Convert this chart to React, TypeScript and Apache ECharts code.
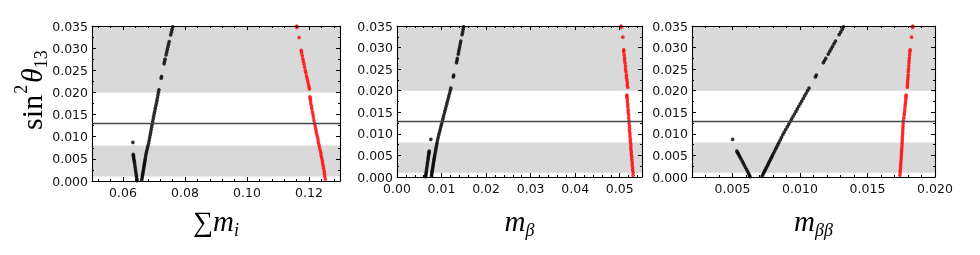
import React, { useEffect, useRef } from "react";
import * as echarts from "echarts";

// ---- data (sin^2 theta13 shared across panels) ----
const blackRightS13 = [0.0002,0.0006,0.0010,0.0014,0.0018,0.0022,0.0026,0.0030,0.0034,0.0038,0.0042,0.0046,0.0050,0.0055,0.0060,0.0065,0.0070,0.0075,0.0080,0.0086,0.0092,0.0098,0.0104,0.0110,0.0116,0.0122,0.0128,0.0134,0.0140,0.0146,0.0152,0.0158,0.0164,0.0170,0.0176,0.0182,0.0188,0.0194,0.0200,0.0206,0.0232,0.0236,0.0265,0.0270,0.0275,0.0285,0.0291,0.0297,0.0303,0.0309,0.0315,0.0330,0.0336,0.0342,0.0348];
const blackRightSum = [0.06605,0.06614,0.06623,0.06633,0.06642,0.06651,0.06661,0.06670,0.06679,0.06689,0.06698,0.06707,0.06717,0.06728,0.06740,0.06757,0.06773,0.06790,0.06807,0.06827,0.06845,0.06861,0.06877,0.06893,0.06909,0.06925,0.06941,0.06957,0.06973,0.06989,0.07006,0.07024,0.07042,0.07060,0.07078,0.07095,0.07111,0.07127,0.07143,0.07159,0.07232,0.07243,0.07326,0.07340,0.07357,0.07390,0.07410,0.07430,0.07450,0.07470,0.07490,0.07540,0.07561,0.07582,0.07603];
const blackRightMb = [0.00773,0.00779,0.00785,0.00791,0.00797,0.00803,0.00809,0.00815,0.00821,0.00827,0.00833,0.00840,0.00847,0.00856,0.00865,0.00873,0.00882,0.00891,0.00900,0.00910,0.00925,0.00939,0.00954,0.00969,0.00983,0.00998,0.01013,0.01028,0.01043,0.01058,0.01073,0.01088,0.01104,0.01119,0.01134,0.01149,0.01164,0.01180,0.01195,0.01209,0.01265,0.01273,0.01336,0.01346,0.01355,0.01375,0.01386,0.01398,0.01409,0.01421,0.01432,0.01461,0.01473,0.01484,0.01496];
const blackRightMbb = [0.00719,0.00726,0.00732,0.00738,0.00745,0.00751,0.00758,0.00764,0.00770,0.00777,0.00783,0.00790,0.00796,0.00804,0.00812,0.00820,0.00828,0.00836,0.00844,0.00854,0.00863,0.00873,0.00883,0.00894,0.00905,0.00916,0.00926,0.00937,0.00948,0.00959,0.00970,0.00980,0.00991,0.01002,0.01013,0.01024,0.01034,0.01045,0.01056,0.01067,0.01114,0.01121,0.01173,0.01182,0.01191,0.01209,0.01220,0.01231,0.01241,0.01252,0.01263,0.01290,0.01301,0.01312,0.01322];

const blackLeftS13 = [0.0087,0.0060,0.0057,0.0054,0.0050,0.0046,0.0042,0.0037,0.0032,0.0027,0.0022,0.0017,0.0012,0.0008,0.0004,0.0001];
const blackLeftSum = [0.0632,0.0633,0.0634,0.0634,0.0635,0.0636,0.0637,0.0638,0.0639,0.0640,0.0641,0.0642,0.0643,0.0644,0.0645,0.0645];
const blackLeftMb = [0.00760,0.00723,0.00719,0.00715,0.00709,0.00703,0.00698,0.00691,0.00684,0.00677,0.00670,0.00663,0.00657,0.00651,0.00646,0.00641];
const blackLeftMbb = [0.00501,0.00532,0.00537,0.00542,0.00549,0.00556,0.00563,0.00572,0.00580,0.00588,0.00596,0.00605,0.00613,0.00620,0.00625,0.00630];

const redS13 = [0.0350,0.0347,0.0324,0.0295,0.0290,0.0283,0.0276,0.0270,0.0264,0.0257,0.0250,0.0244,0.0237,0.0231,0.0225,0.0219,0.0213,0.0208,0.0190,0.0186,0.0181,0.0175,0.0169,0.0163,0.0156,0.0150,0.0144,0.0137,0.0130,0.0124,0.0118,0.0112,0.0106,0.0100,0.0094,0.0088,0.0082,0.0076,0.0070,0.0064,0.0058,0.0052,0.0046,0.0040,0.0034,0.0028,0.0022,0.0016,0.0010,0.0004];
const redSum = [0.1160,0.1161,0.1168,0.1175,0.1176,0.1178,0.1180,0.1182,0.1184,0.1186,0.1188,0.1190,0.1192,0.1194,0.1196,0.1198,0.1200,0.1201,0.1203,0.1204,0.1205,0.1206,0.1208,0.1209,0.1211,0.1213,0.1214,0.1216,0.1218,0.1220,0.1222,0.1223,0.1225,0.1227,0.1229,0.1230,0.1232,0.1234,0.1236,0.1238,0.1239,0.1241,0.1243,0.1244,0.1246,0.1247,0.1249,0.1250,0.1251,0.1253];
const redMb = [0.0503,0.0504,0.0507,0.0509,0.0509,0.0510,0.0511,0.0511,0.0512,0.0513,0.0513,0.0514,0.0515,0.0515,0.0516,0.0517,0.0517,0.0518,0.0516,0.0516,0.0517,0.0517,0.0518,0.0518,0.0519,0.0519,0.0520,0.0520,0.0521,0.0521,0.0522,0.0522,0.0522,0.0523,0.0523,0.0524,0.0524,0.0525,0.0525,0.0525,0.0526,0.0526,0.0527,0.0527,0.0528,0.0528,0.0529,0.0529,0.0530,0.0530];
const redMbb = [0.01836,0.01834,0.01827,0.01816,0.01814,0.01812,0.01810,0.01808,0.01807,0.01805,0.01804,0.01802,0.01801,0.01800,0.01798,0.01797,0.01796,0.01795,0.01786,0.01785,0.01784,0.01782,0.01780,0.01778,0.01776,0.01774,0.01772,0.01769,0.01766,0.01764,0.01763,0.01762,0.01761,0.01760,0.01759,0.01758,0.01757,0.01756,0.01755,0.01753,0.01752,0.01751,0.01750,0.01749,0.01747,0.01746,0.01745,0.01743,0.01742,0.01740];

// bands and reference line
const bandLow = [0.001, 0.008];
const bandHigh = [0.020, 0.035];
const refLine = 0.013;

// ticks
const yTicks = [0, 0.005, 0.01, 0.015, 0.02, 0.025, 0.03, 0.035];
const yMinor = [0.0025, 0.0075, 0.0125, 0.0175, 0.0225, 0.0275, 0.0325];
const sumTicks = [0.06, 0.08, 0.10, 0.12];
const sumMinor = [0.052,0.056,0.064,0.068,0.072,0.076,0.084,0.088,0.092,0.096,0.104,0.108,0.112,0.116,0.124,0.128];
const mbTicks = [0, 0.01, 0.02, 0.03, 0.04, 0.05];
const mbMinor = [0.002,0.004,0.006,0.008,0.012,0.014,0.016,0.018,0.022,0.024,0.026,0.028,0.032,0.034,0.036,0.038,0.042,0.044,0.046,0.048,0.052,0.054];
const mbbTicks = [0.005, 0.010, 0.015, 0.020];
const mbbMinor = [0.003,0.004,0.006,0.007,0.008,0.009,0.011,0.012,0.013,0.014,0.016,0.017,0.018,0.019];

const zip = (xs: number[], ys: number[]) => xs.map((x, i) => [x, ys[i]]);

const SANS = "DejaVu Sans";
const SERIF = "Liberation Serif";

const panels = [
  { left: 92, top: 26, width: 248, height: 155, xMin: 0.05, xMax: 0.13, ticks: sumTicks, minor: sumMinor, dec: 2,
    black: [...zip(blackLeftSum, blackLeftS13), ...zip(blackRightSum, blackRightS13)], red: zip(redSum, redS13),
    title: "{a|∑}{m|m}{s|i}" },
  { left: 397, top: 26, width: 245, height: 151, xMin: 0, xMax: 0.055, ticks: mbTicks, minor: mbMinor, dec: 2,
    black: [...zip(blackLeftMb, blackLeftS13), ...zip(blackRightMb, blackRightS13)], red: zip(redMb, redS13),
    title: "{m|m}{s|β}" },
  { left: 692, top: 26, width: 243, height: 151, xMin: 0.002, xMax: 0.02, ticks: mbbTicks, minor: mbbMinor, dec: 3,
    black: [...zip(blackLeftMbb, blackLeftS13), ...zip(blackRightMbb, blackRightS13)], red: zip(redMbb, redS13),
    title: "{m|m}{s|ββ}" },
];

export default function App() {
  const ref = useRef<HTMLDivElement>(null);
  useEffect(() => {
    if (!ref.current) return;
    const chart = echarts.init(ref.current, undefined, { renderer: "svg" });
    const grid: any[] = [];
    const xAxis: any[] = [];
    const yAxis: any[] = [];
    const series: any[] = [];
    const graphic: any[] = [];
    const lineStyle = { color: "#000", width: 1.1 };
    panels.forEach((p, i) => {
      grid.push({ left: p.left, top: p.top, width: p.width, height: p.height });
      const mk = (pos: string, major: boolean, labels: boolean, isX: boolean) => ({
        type: "value",
        gridIndex: i,
        position: pos,
        min: isX ? p.xMin : 0,
        max: isX ? p.xMax : 0.035,
        z: 10,
        splitLine: { show: false },
        axisLine: { show: major, onZero: false, lineStyle },
        axisTick: {
          show: true, inside: true, length: major ? 4 : 2,
          customValues: isX ? (major ? p.ticks : p.minor) : (major ? yTicks : yMinor),
          lineStyle: { color: "#000", width: 1 },
        },
        axisLabel: labels
          ? {
              show: true,
              customValues: isX ? p.ticks : yTicks,
              formatter: (v: number) => v.toFixed(isX ? p.dec : 3),
              fontFamily: SANS, fontSize: 12.5, color: "#111",
              margin: isX ? 5 : 4,
            }
          : { show: false },
      });
      xAxis.push(mk("bottom", true, true, true));
      xAxis.push(mk("bottom", false, false, true));
      xAxis.push(mk("top", true, false, true));
      xAxis.push(mk("top", false, false, true));
      yAxis.push(mk("left", true, true, false));
      yAxis.push(mk("left", false, false, false));
      yAxis.push(mk("right", true, false, false));
      yAxis.push(mk("right", false, false, false));
      const xi = i * 4, yi = i * 4;
      series.push({
        type: "line", xAxisIndex: xi, yAxisIndex: yi, data: [], silent: true,
        markArea: {
          silent: true,
          precision: 5,
          itemStyle: { color: "#d9d9d9" },
          data: [
            [{ yAxis: bandLow[0] }, { yAxis: bandLow[1] }],
            [{ yAxis: bandHigh[0] }, { yAxis: bandHigh[1] }],
          ],
        },
        markLine: {
          silent: true, precision: 5, symbol: ["none", "none"], label: { show: false },
          lineStyle: { color: "#4a4a4a", width: 1.3, type: "solid" },
          data: [{ yAxis: refLine }],
        },
      });
      series.push({
        type: "scatter", xAxisIndex: xi, yAxisIndex: yi, data: p.black,
        symbolSize: 3.7, itemStyle: { color: "#000" }, silent: true,
      });
      series.push({
        type: "scatter", xAxisIndex: xi, yAxisIndex: yi, data: p.red,
        symbolSize: 3.7, itemStyle: { color: "#ff0000" }, silent: true,
      });
      graphic.push({
        type: "text",
        x: p.left + p.width / 2,
        y: 221,
        style: {
          text: p.title,
          align: "center",
          verticalAlign: "middle",
          fill: "#000",
          rich: {
            a: { fontFamily: SERIF, fontSize: 28, lineHeight: 36 },
            m: { fontFamily: SERIF, fontStyle: "italic", fontSize: 29, lineHeight: 36 },
            s: { fontFamily: SERIF, fontStyle: "italic", fontSize: 18, lineHeight: 18, verticalAlign: "bottom" },
          },
        },
      });
    });
    graphic.push({
      type: "text",
      x: 31,
      y: 90,
      rotation: Math.PI / 2,
      style: {
        text: "{t|sin}{p|2}{g|θ}{s|13}",
        align: "center",
        verticalAlign: "middle",
        fill: "#000",
        rich: {
          t: { fontFamily: SERIF, fontSize: 30, lineHeight: 38 },
          p: { fontFamily: SERIF, fontSize: 18, lineHeight: 18, verticalAlign: "top", padding: [0, 2, 0, 1] },
          g: { fontFamily: SERIF, fontStyle: "italic", fontSize: 30, lineHeight: 38 },
          s: { fontFamily: SERIF, fontSize: 18, lineHeight: 18, verticalAlign: "bottom" },
        },
      },
    });
    chart.setOption({ animation: false, grid, xAxis, yAxis, series, graphic });
    return () => chart.dispose();
  }, []);
  return <div ref={ref} style={{ position: "fixed", left: 0, top: 0, width: 980, height: 255 }} />;
}
